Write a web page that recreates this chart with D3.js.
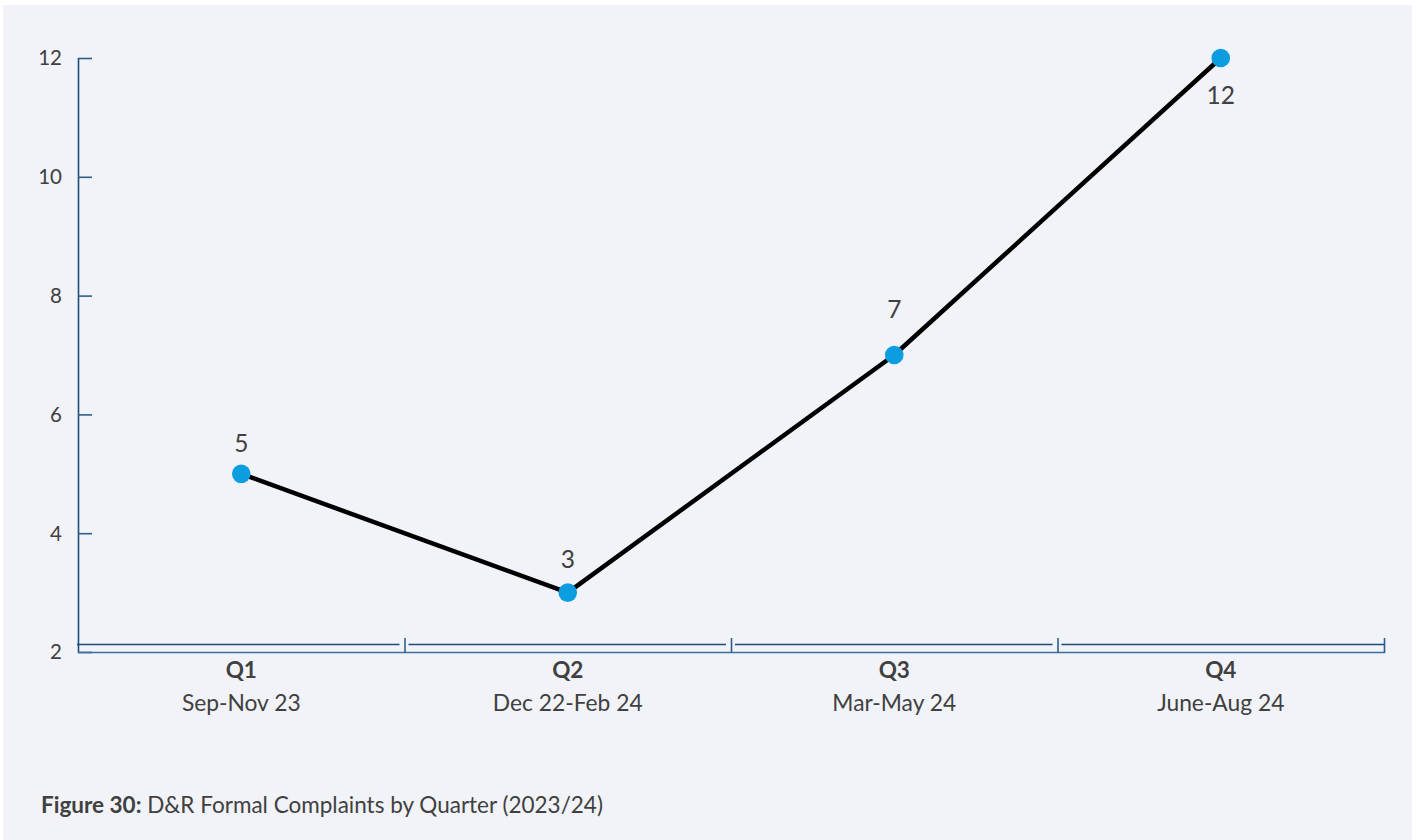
<!DOCTYPE html>
<html>
<head>
<meta charset="utf-8">
<script src="https://cdn.jsdelivr.net/npm/d3@7"></script>
<style>
  html, body { margin: 0; padding: 0; background: #ffffff; }
  svg { display: block; }
  text { font-family: Lato, "Open Sans", sans-serif; fill: #404040; }
</style>
</head>
<body>
<svg id="chart" width="1416" height="840"></svg>
<script>
// Formal complaints per quarter, 2023/24
const quarters = ["Q1", "Q2", "Q3", "Q4"];
const periods = ["Sep-Nov 23", "Dec 22-Feb 24", "Mar-May 24", "June-Aug 24"];
const complaints = [5, 3, 7, 12];
const yTicks = [2, 4, 6, 8, 10, 12];

// value-label placement relative to each point (px, baseline offset)
const labelOffsets = [-22, -25, -37, 46];

const W = 1416, H = 840;
const svg = d3.select("#chart");

// panel background
svg.append("rect")
  .attr("x", 3).attr("y", 5)
  .attr("width", 1409).attr("height", H - 5)
  .attr("fill", "#f1f3f8");

const x = d3.scaleBand().domain(quarters).range([78, 1384]).paddingInner(0).paddingOuter(0);
const y = d3.scaleLinear().domain([2, 12]).range([652, 58]);

const axisDark = "#1f4e79";

// y axis: ticks point inward
const yAxis = svg.append("g")
  .attr("transform", "translate(78,0)")
  .call(d3.axisRight(y).tickValues(yTicks).tickSize(14).tickFormat(""));
yAxis.select(".domain").attr("stroke", axisDark).attr("stroke-width", 1.6).attr("d", `M0.5,${y(12)}V${y(2) + 1}`);
yAxis.selectAll(".tick line").attr("stroke", "#2e5d8c").attr("stroke-width", 1.6);

svg.append("g").selectAll("text")
  .data(yTicks)
  .join("text")
  .attr("x", 62)
  .attr("y", d => y(d))
  .attr("dy", "0.36em")
  .attr("text-anchor", "end")
  .attr("font-size", 20.5)
  .text(d => d);

// x axis: baseline at the bottom of the plot plus a crossing line with band dividers
const xLineY = 644.5;
const boundaries = [78].concat(quarters.map(q => x(q) + x.bandwidth()));
const xg = svg.append("g");
xg.append("line")
  .attr("x1", 78).attr("x2", 1384.5)
  .attr("y1", 652.5).attr("y2", 652.5)
  .attr("stroke", "#3f6f9f").attr("stroke-width", 1.6);
xg.selectAll("line.seg")
  .data(quarters)
  .join("line")
  .attr("class", "seg")
  .attr("x1", (q, i) => x(q) + (i === 0 ? -1 : 4))
  .attr("x2", (q, i) => x(q) + x.bandwidth() - (i === quarters.length - 1 ? 0 : 5))
  .attr("y1", xLineY).attr("y2", xLineY)
  .attr("stroke", "#1c4a79").attr("stroke-width", 1.6);
xg.selectAll("line.div")
  .data(boundaries.slice(1))
  .join("line")
  .attr("class", "div")
  .attr("x1", d => d + 0.5).attr("x2", d => d + 0.5)
  .attr("y1", 638).attr("y2", 653)
  .attr("stroke", "#2e5d8c").attr("stroke-width", 1.6);

// category labels
const cat = svg.append("g").selectAll("g")
  .data(quarters)
  .join("g")
  .attr("transform", q => `translate(${x(q) + x.bandwidth() / 2},0)`);
cat.append("text")
  .attr("y", 678)
  .attr("text-anchor", "middle")
  .attr("font-size", 22.5)
  .attr("font-weight", 700)
  .text(q => q);
cat.append("text")
  .attr("y", 711)
  .attr("text-anchor", "middle")
  .attr("font-size", 22.8)
  .text((q, i) => periods[i]);

// series line
const pts = quarters.map((q, i) => ({ q, v: complaints[i], dy: labelOffsets[i] }));
const line = d3.line().x(d => x(d.q) + x.bandwidth() / 2).y(d => y(d.v));
svg.append("path")
  .datum(pts)
  .attr("d", line)
  .attr("fill", "none")
  .attr("stroke", "#000000")
  .attr("stroke-width", 4.5)
  .attr("stroke-linejoin", "round");

svg.append("g").selectAll("circle")
  .data(pts)
  .join("circle")
  .attr("cx", d => x(d.q) + x.bandwidth() / 2)
  .attr("cy", d => y(d.v))
  .attr("r", 9.3)
  .attr("fill", "#0b9de0");

svg.append("g").selectAll("text")
  .data(pts)
  .join("text")
  .attr("x", d => x(d.q) + x.bandwidth() / 2)
  .attr("y", d => y(d.v) + d.dy)
  .attr("text-anchor", "middle")
  .attr("font-size", 24.5)
  .text(d => d.v);

// caption
const cap = svg.append("text")
  .attr("x", 41)
  .attr("y", 813)
  .attr("font-size", 22.5);
cap.append("tspan").attr("font-weight", 700).text("Figure 30:");
cap.append("tspan").text(" D&R Formal Complaints by Quarter (2023/24)");
</script>
</body>
</html>
